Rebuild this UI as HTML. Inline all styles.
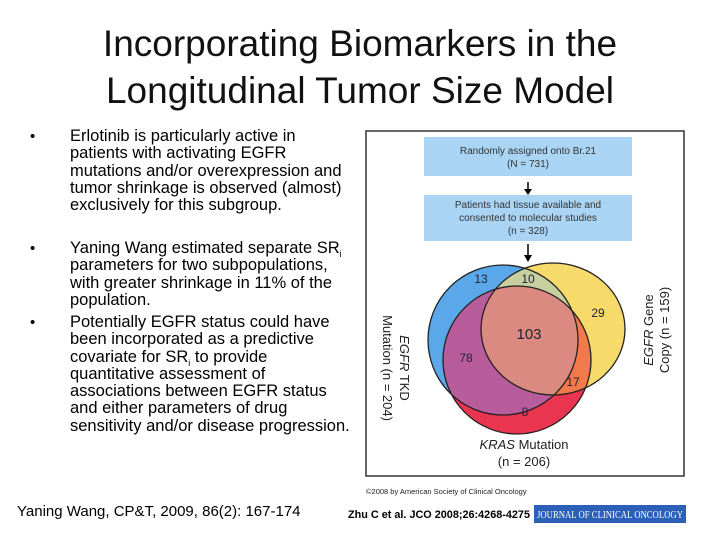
<!DOCTYPE html>
<html><head><meta charset="utf-8"><style>
body{margin:0;width:720px;height:540px;background:#fff;position:relative;overflow:hidden;font-family:"Liberation Sans",sans-serif}
.t{position:absolute;left:0;width:720px;text-align:center;font-size:37px;color:#111;white-space:nowrap}
.b{position:absolute;left:30px;font-size:15px}
.l{position:absolute;left:70px;font-size:16.5px;line-height:17.3px;white-space:nowrap;color:#000}
.s{font-size:9px;position:relative;top:4px;line-height:0}
</style></head><body>
<div class="t" style="top:23px">Incorporating Biomarkers in the</div>
<div class="t" style="top:70px">Longitudinal Tumor Size Model</div>
<div class="b" style="top:128px">•</div>
<div class="l" style="top:128px">Erlotinib is particularly active in<br>patients with activating EGFR<br>mutations and/or overexpression and<br>tumor shrinkage is observed (almost)<br>exclusively for this subgroup.</div>
<div class="b" style="top:240px">•</div>
<div class="l" style="top:240px">Yaning Wang estimated separate SR<span class="s">i</span><br>parameters for two subpopulations,<br>with greater shrinkage in 11% of the<br>population.</div>
<div class="b" style="top:314px">•</div>
<div class="l" style="top:314px">Potentially EGFR status could have<br>been incorporated as a predictive<br>covariate for SR<span class="s">i</span> to provide<br>quantitative assessment of<br>associations between EGFR status<br>and either parameters of drug<br>sensitivity and/or disease progression.</div>
<div style="position:absolute;left:17px;top:503px;font-size:15px;white-space:nowrap">Yaning Wang, CP&amp;T, 2009, 86(2): 167-174</div>

<svg style="position:absolute;left:0;top:0" width="720" height="540">
<defs>
<clipPath id="cb"><circle cx="503" cy="340" r="75"/></clipPath>
<clipPath id="cy"><ellipse cx="553" cy="329" rx="72" ry="66"/></clipPath>
<clipPath id="cr"><circle cx="517" cy="360" r="74"/></clipPath>
</defs>
<rect x="366" y="131" width="318" height="345" fill="#fff" stroke="#333" stroke-width="1.5"/>
<rect x="424" y="137" width="208" height="39" fill="#a9d4f3"/>
<text x="528" y="154" font-size="10" text-anchor="middle" fill="#333">Randomly assigned onto Br.21</text>
<text x="528" y="167" font-size="10" text-anchor="middle" fill="#333">(N = 731)</text>
<line x1="528" y1="182" x2="528" y2="192" stroke="#000" stroke-width="1.5"/><polygon points="524,189 532,189 528,195" fill="#000"/>
<rect x="424" y="195" width="208" height="46" fill="#a9d4f3"/>
<text x="528" y="208" font-size="10" text-anchor="middle" fill="#333">Patients had tissue available and</text>
<text x="528" y="221" font-size="10" text-anchor="middle" fill="#333">consented to molecular studies</text>
<text x="528" y="234" font-size="10" text-anchor="middle" fill="#333">(n = 328)</text>
<line x1="528" y1="244" x2="528" y2="258" stroke="#000" stroke-width="1.5"/><polygon points="524,255 532,255 528,262" fill="#000"/>
<circle cx="503" cy="340" r="75" fill="#5aa8ea"/>
<ellipse cx="553" cy="329" rx="72" ry="66" fill="#f6da6c"/>
<circle cx="517" cy="360" r="74" fill="#ea3550"/>
<g clip-path="url(#cb)"><ellipse cx="553" cy="329" rx="72" ry="66" fill="#c6cf9f"/></g>
<g clip-path="url(#cb)"><circle cx="517" cy="360" r="74" fill="#b85c9c"/></g>
<g clip-path="url(#cy)"><circle cx="517" cy="360" r="74" fill="#f27a4a"/></g>
<g clip-path="url(#cb)"><g clip-path="url(#cy)"><circle cx="517" cy="360" r="74" fill="#da8a80"/></g></g>
<g fill="none" stroke="#222" stroke-width="1.3">
<circle cx="503" cy="340" r="75"/><ellipse cx="553" cy="329" rx="72" ry="66"/><circle cx="517" cy="360" r="74"/></g>
<g font-size="12" fill="#223" text-anchor="middle">
<text x="481" y="283">13</text><text x="528" y="283">10</text><text x="598" y="317">29</text>
<text x="529" y="339" font-size="15">103</text><text x="466" y="362">78</text><text x="573" y="386">17</text><text x="525" y="416">8</text></g>
<text transform="translate(383,368) rotate(90)" font-size="13" text-anchor="middle" fill="#222">Mutation (n = 204)</text>
<text transform="translate(400,368) rotate(90)" font-size="13" text-anchor="middle" fill="#222"><tspan font-style="italic">EGFR</tspan> TKD</text>
<text transform="translate(653,330) rotate(-90)" font-size="13" text-anchor="middle" fill="#222"><tspan font-style="italic">EGFR</tspan> Gene</text>
<text transform="translate(669,330) rotate(-90)" font-size="13" text-anchor="middle" fill="#222">Copy (n = 159)</text>
<text x="524" y="449" font-size="13" text-anchor="middle" fill="#222"><tspan font-style="italic">KRAS</tspan> Mutation</text>
<text x="524" y="466" font-size="13" text-anchor="middle" fill="#222">(n = 206)</text>
<text x="366" y="494" font-size="7.5" fill="#222">©2008 by American Society of Clinical Oncology</text>
<text x="348" y="518" font-size="11" font-weight="bold" fill="#000" textLength="182" lengthAdjust="spacingAndGlyphs">Zhu C et al. JCO 2008;26:4268-4275</text>
<rect x="534" y="505" width="152" height="18" fill="#2c5fb8"/>
<text x="537" y="518" font-size="10" font-family="Liberation Serif" textLength="146" lengthAdjust="spacingAndGlyphs" fill="#fff">JOURNAL OF CLINICAL ONCOLOGY</text>
</svg>
</body></html>
